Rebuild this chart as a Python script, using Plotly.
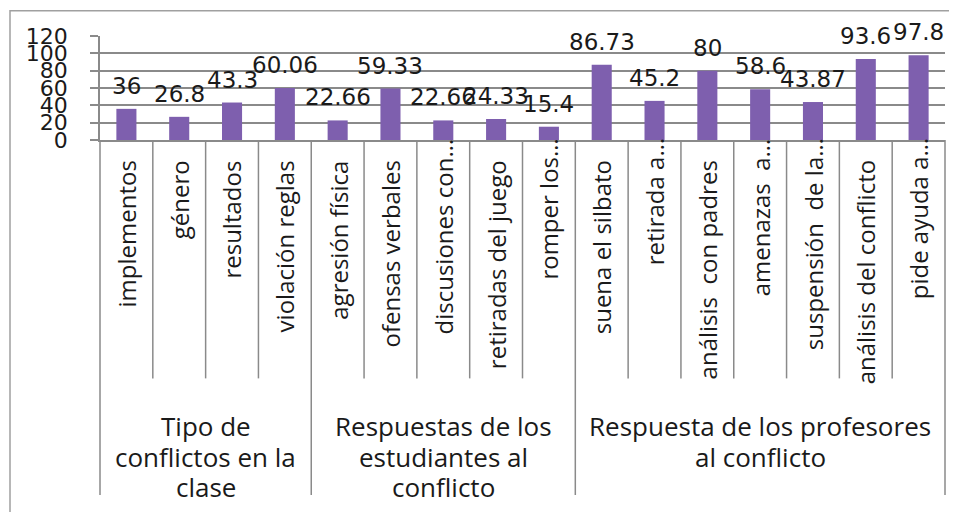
import plotly.graph_objects as go

categories = ["implementos", "género", "resultados", "violación reglas",
              "agresión física", "ofensas verbales", "discusiones con…",
              "retiradas del juego", "romper los…",
              "suena el silbato", "retirada a…", "análisis  con padres",
              "amenazas  a…", "suspensión  de la…", "análisis del conflicto",
              "pide ayuda a…"]
values = [36, 26.8, 43.3, 60.06,
          22.66, 59.33, 22.66, 24.33, 15.4,
          86.73, 45.2, 80, 58.6, 43.87, 93.6, 97.8]
value_labels = ["36", "26.8", "43.3", "60.06",
                "22.66", "59.33", "22.66", "24.33", "15.4",
                "86.73", "45.2", "80", "58.6", "43.87", "93.6", "97.8"]
group_lines = [["Tipo de", "conflictos en la", "clase"],
               ["Respuestas de los", "estudiantes al", "conflicto"],
               ["Respuesta de los profesores", "al conflicto"]]
group_sizes = [4, 5, 7]
y_ticks = [0, 20, 40, 60, 80, 100, 120]

# page body has an 8px margin; work in window pixel coordinates
OFF = 8
WIN_W, WIN_H = 957, 512
W, H = WIN_W - OFF, WIN_H - OFF
PLOT_L, PLOT_R, PLOT_T, Y_ZERO = 100, 945, 36, 143
ML, MR, MT, MB = PLOT_L - OFF, WIN_W - PLOT_R, PLOT_T - OFF, 0
PH = H - MT - MB


def py(Y):
    return (WIN_H - MB - Y) / PH


def px(X):
    return (X - PLOT_L) / (PLOT_R - PLOT_L)


GRID = "#8a8a8a"
BAR = "#7E5FAE"
TXT = "#1a1a1a"
n = len(categories)

fig = go.Figure()
fig.add_trace(go.Bar(x=categories, y=values, marker=dict(color=BAR, line=dict(width=0)),
                     width=0.38, hoverinfo="x+y"))

annotations = []
for c, v, t in zip(categories, values, value_labels):
    annotations.append(dict(x=c, y=v, xref="x", yref="y", text=t, showarrow=False,
                            yanchor="bottom", yshift=8,
                            font=dict(family="DejaVu Sans", size=23, color=TXT)))

for c in categories:
    top = 139 if c.endswith("…") else 162
    annotations.append(dict(x=c, y=py(top), xref="x", yref="paper", text=c,
                            showarrow=False, textangle=-90, yanchor="top",
                            xanchor="center",
                            font=dict(family="Open Sans", size=24, color=TXT)))

shapes = []
bounds = [0]
for s in group_sizes:
    bounds.append(bounds[-1] + s)
for i in range(n + 1):
    bottom = 508 if i in bounds else 388
    shapes.append(dict(type="line", xref="paper", yref="paper",
                       x0=i / n, x1=i / n, y0=py(Y_ZERO), y1=py(bottom),
                       line=dict(color=GRID, width=1.5)))

line_centers = [437, 469, 500]
for lines, a, b in zip(group_lines, bounds[:-1], bounds[1:]):
    for ln, yc in zip(lines, line_centers):
        annotations.append(dict(x=(a + b) / 2 / n, y=py(yc), xref="paper", yref="paper",
                                text=ln, showarrow=False, yanchor="middle",
                                xanchor="center",
                                font=dict(family="Open Sans", size=26, color=TXT)))

# chart border
shapes.append(dict(type="rect", xref="paper", yref="paper",
                   x0=px(10), x1=px(955), y0=py(530), y1=py(10),
                   line=dict(color="#a0a0a0", width=1.5), fillcolor="rgba(0,0,0,0)",
                   layer="below"))

fig.update_layout(
    width=W, height=H,
    margin=dict(l=ML, r=MR, t=MT, b=MB),
    paper_bgcolor="white", plot_bgcolor="white",
    showlegend=False,
    bargap=0.62,
    annotations=annotations,
    shapes=shapes,
    xaxis=dict(type="category", showticklabels=False, showgrid=False,
               showline=True, linecolor=GRID, linewidth=1.5, ticks="",
               range=[-0.5, n - 0.5], fixedrange=True),
    yaxis=dict(domain=[py(Y_ZERO), 1], range=[0, 120], tickvals=y_ticks,
               showgrid=True, gridcolor=GRID, gridwidth=1.5,
               showline=True, linecolor=GRID, linewidth=1.5,
               ticks="outside", ticklen=8, tickcolor=GRID, tickwidth=1.5,
               ticklabelstandoff=18, zeroline=False,
               tickfont=dict(family="DejaVu Sans", size=22, color=TXT),
               fixedrange=True),
)

fig.write_html("out.html")
